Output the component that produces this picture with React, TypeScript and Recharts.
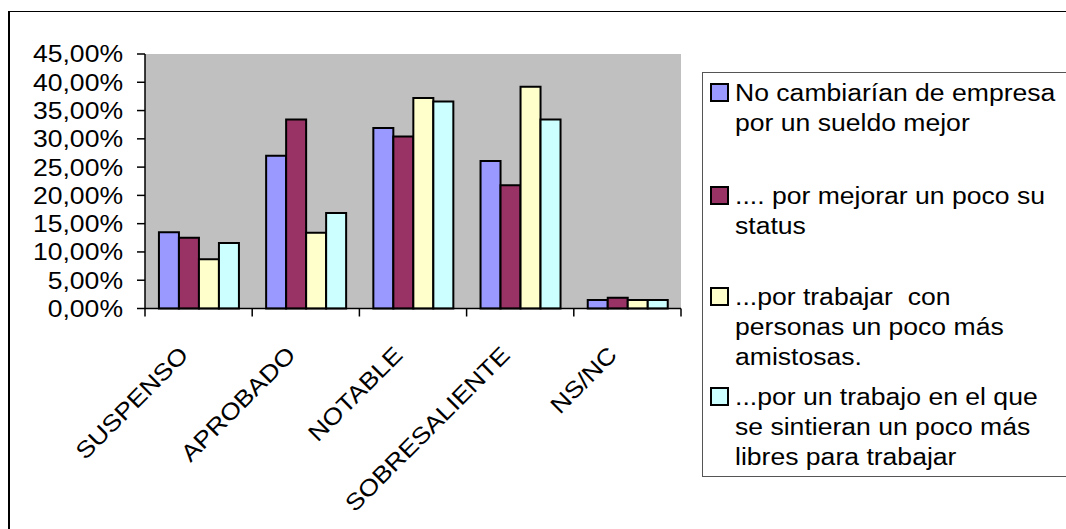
import React from "react";
import { BarChart, Bar, XAxis, YAxis, CartesianGrid } from "recharts";

const categories = ["SUSPENSO", "APROBADO", "NOTABLE", "SOBRESALIENTE", "NS/NC"];
const noCambiarian = [13.5, 27.0, 31.9, 26.1, 1.5];
const mejorarStatus = [12.5, 33.4, 30.4, 21.8, 1.9];
const personasAmistosas = [8.7, 13.4, 37.2, 39.2, 1.5];
const sentirseLibres = [11.6, 16.9, 36.6, 33.4, 1.5];
const yTicks = [0, 5, 10, 15, 20, 25, 30, 35, 40, 45];

const seriesKeys = ["s1", "s2", "s3", "s4"];
const seriesColors = ["#9999FF", "#993366", "#FFFFCC", "#CCFFFF"];
const seriesLabels = [
  ["No cambiarían de empresa", "por un sueldo mejor"],
  [".... por mejorar un poco su", "status"],
  ["...por trabajar  con", "personas un poco más", "amistosas."],
  ["...por un trabajo en el que", "se sintieran un poco más", "libres para trabajar"],
];
const seriesValues = [noCambiarian, mejorarStatus, personasAmistosas, sentirseLibres];

const data = categories.map((c, i) => {
  const row: any = { name: c };
  seriesKeys.forEach((k, j) => {
    row[k] = seriesValues[j][i];
  });
  return row;
});

const FONT = "'Liberation Sans', Arial, sans-serif";
const FS = 23.3;
const SX = 1.14;

const fmt = (v: number) => `${v.toFixed(2).replace(".", ",")}%`;

const YTick = (props: any) => {
  const { x, y, payload } = props;
  return (
    <text
      transform={`translate(${x},${y}) scale(${SX},1)`}
      x={0}
      y={0}
      dy="0.36em"
      textAnchor="end"
      fontFamily={FONT}
      fontSize={FS}
      fill="#000"
    >
      {fmt(payload.value)}
    </text>
  );
};

const XTick = (props: any) => {
  const { x, y, payload, index } = props;
  const off = payload && payload.offset != null ? payload.offset : 0;
  const axisY = y - 8;
  const isLast = index === categories.length - 1;
  return (
    <g>
      <line x1={x - off} x2={x - off} y1={axisY} y2={axisY + 8} stroke="#000" strokeWidth={1.5} />
      {isLast && (
        <line x1={x + off} x2={x + off} y1={axisY} y2={axisY + 8} stroke="#000" strokeWidth={1.5} />
      )}
      <text
        transform={`translate(${x - 9},${axisY + 48}) rotate(-45) scale(${SX},1)`}
        x={0}
        y={0}
        textAnchor="end"
        fontFamily={FONT}
        fontSize={FS}
        fill="#000"
      >
        {payload.value}
      </text>
    </g>
  );
};

export default function App() {
  return (
    <div
      style={{
        position: "fixed",
        left: 8,
        top: 8,
        width: 1058,
        height: 521,
        overflow: "hidden",
        background: "#fff",
      }}
    >
      <div
        style={{
          position: "absolute",
          left: 0,
          top: 3,
          width: 2000,
          height: 2000,
          borderLeft: "2px solid #000",
          borderTop: "1px solid #000",
          boxSizing: "border-box",
        }}
      />
      <div style={{ position: "absolute", left: 0, top: 0 }}>
        <BarChart
          width={1058}
          height={521}
          data={data}
          margin={{ top: 46, right: 385, bottom: 0, left: 0 }}
          barCategoryGap="13%"
          barGap={0}
        >
          <CartesianGrid fill="#C0C0C0" horizontal={false} vertical={false} stroke="none" />
          <XAxis
            xAxisId="top"
            orientation="top"
            dataKey="name"
            height={0}
            tick={false}
            tickLine={false}
            axisLine={{ stroke: "#808080", strokeWidth: 2 }}
          />
          <YAxis
            yAxisId="r"
            orientation="right"
            width={0}
            domain={[0, 45]}
            tick={false}
            tickLine={false}
            axisLine={{ stroke: "#808080", strokeWidth: 2 }}
          />
          <XAxis
            dataKey="name"
            height={220.5}
            interval={0}
            tickSize={8}
            tickMargin={0}
            tickLine={false}
            axisLine={{ stroke: "#000", strokeWidth: 1.5 }}
            tick={<XTick />}
          />
          <YAxis
            type="number"
            domain={[0, 45]}
            ticks={yTicks}
            interval={0}
            width={137}
            tickSize={8}
            tickMargin={14}
            tickLine={{ stroke: "#000", strokeWidth: 1.5 }}
            axisLine={{ stroke: "#000", strokeWidth: 1.5 }}
            tick={<YTick />}
          />
          {seriesKeys.map((k, j) => (
            <Bar
              key={k}
              dataKey={k}
              name={seriesLabels[j].join(" ")}
              fill={seriesColors[j]}
              stroke="#000"
              strokeWidth={2}
              isAnimationActive={false}
            />
          ))}
        </BarChart>
      </div>
      <div
        style={{
          position: "absolute",
          left: 694,
          top: 63.5,
          width: 600,
          height: 405.5,
          border: "1px solid #555",
          boxSizing: "border-box",
          background: "#fff",
          fontFamily: FONT,
          fontSize: FS,
          lineHeight: "30px",
          color: "#000",
        }}
      >
        {seriesLabels.map((lines, j) => {
          const tops = [5, 108, 209, 309];
          return (
            <div key={j} style={{ position: "absolute", left: 0, top: tops[j] }}>
              <div
                style={{
                  position: "absolute",
                  left: 7,
                  top: 5.5,
                  width: 19,
                  height: 19,
                  background: seriesColors[j],
                  border: "2px solid #000",
                  boxSizing: "border-box",
                }}
              />
              <div
                style={{
                  position: "absolute",
                  left: 32,
                  top: 0,
                  whiteSpace: "pre",
                  transform: `scaleX(${SX})`,
                  transformOrigin: "0 0",
                }}
              >
                {lines.map((l, i) => (
                  <div key={i}>{l}</div>
                ))}
              </div>
            </div>
          );
        })}
      </div>
    </div>
  );
}
